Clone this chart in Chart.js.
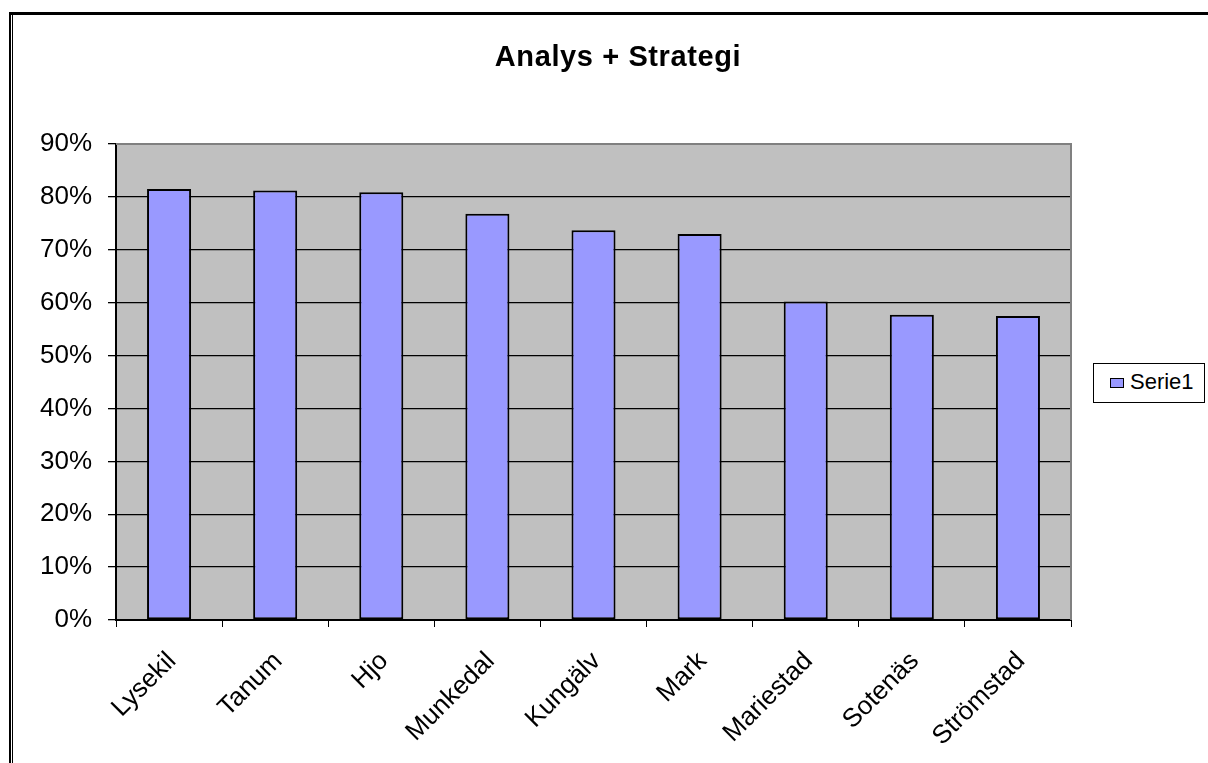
<!DOCTYPE html>
<html>
<head>
<meta charset="utf-8">
<script src="https://cdn.jsdelivr.net/npm/chart.js@4/dist/chart.umd.min.js"></script>
<style>
  html, body { margin: 0; padding: 0; background: #fff; }
  #wrap { position: relative; width: 1208px; height: 763px; overflow: hidden; }
  #c { position: absolute; left: 0; top: 0; }
  #title { position: absolute; left: 418px; top: 42px; width: 400px; text-align: center;
    font: bold 29px "Liberation Sans", Arial, sans-serif; line-height: 29px; letter-spacing: 0.6px; color: #000; }
  #legend { position: absolute; left: 1093px; top: 363px; width: 112px; height: 40px; box-sizing: border-box;
    border: 1px solid #000; background: #fff; }
  #legend .sw { position: absolute; left: 16px; top: 14px; width: 14px; height: 10px; box-sizing: border-box;
    border: 1px solid #000; background: #9999FF; }
  #legend .tx { position: absolute; left: 36px; top: 7px; font: 22px "Liberation Sans", Arial, sans-serif;
    line-height: 22px; color: #000; white-space: nowrap; }
</style>
</head>
<body>
<div id="wrap">
  <canvas id="c" width="1208" height="763"></canvas>
  <div id="title">Analys + Strategi</div>
  <div id="legend"><div class="sw"></div><div class="tx" id="legendText"></div></div>
</div>
<script>
const categories = ["Lysekil", "Tanum", "Hjo", "Munkedal", "Kungälv", "Mark", "Mariestad", "Sotenäs", "Strömstad"];
const seriesName = "Serie1";
const serie1 = [81.5, 81.2, 80.9, 76.8, 73.7, 73.0, 60.2, 57.7, 57.5];
const yTicks = [0, 10, 20, 30, 40, 50, 60, 70, 80, 90];

document.getElementById('legendText').textContent = seriesName;

const FONT = '"Liberation Sans", Arial, sans-serif';

const plotBg = {
  id: 'plotBg',
  beforeDraw(chart) {
    const { ctx, chartArea: a } = chart;
    ctx.save();
    ctx.fillStyle = '#C0C0C0';
    ctx.fillRect(a.left, a.top, a.right - a.left, a.bottom - a.top);
    ctx.restore();
  },
  beforeDatasetsDraw(chart) {
    const { ctx, chartArea: a } = chart;
    ctx.save();
    ctx.strokeStyle = '#808080';
    ctx.lineWidth = 2;
    ctx.beginPath();
    ctx.moveTo(a.left, a.top);
    ctx.lineTo(a.right, a.top);
    ctx.lineTo(a.right, a.bottom);
    ctx.stroke();
    ctx.restore();
  },
  afterDraw(chart) {
    const { ctx } = chart;
    ctx.save();
    ctx.fillStyle = '#000';
    ctx.fillRect(9, 12, 1208 - 9, 3);   // top frame
    ctx.fillRect(9, 12, 2, 763 - 12);   // left frame thick
    ctx.fillRect(12, 15, 1, 763 - 15);  // left frame thin
    ctx.restore();
  }
};

new Chart(document.getElementById('c'), {
  type: 'bar',
  data: {
    labels: categories,
    datasets: [{
      label: seriesName,
      data: serie1,
      backgroundColor: '#9999FF',
      borderColor: '#000000',
      borderWidth: 2,
      borderSkipped: false,
      barPercentage: 0.415,
      categoryPercentage: 1.0
    }]
  },
  options: {
    responsive: false,
    animation: false,
    devicePixelRatio: 1,
    layout: { padding: { top: 144, right: 137, left: 0, bottom: 0 } },
    plugins: {
      legend: { display: false },
      title: { display: false },
      tooltip: { enabled: false }
    },
    scales: {
      x: {
        grid: { offset: true, drawOnChartArea: false, drawTicks: true, tickLength: 7, color: '#000', lineWidth: 1 },
        border: { color: '#000', width: 2 },
        ticks: {
          font: { family: FONT, size: 26 }, color: '#000',
          maxRotation: 45, minRotation: 45, autoSkip: false,
          padding: 19, labelOffset: 3
        },
        afterFit(s) { s.height = 143; }
      },
      y: {
        min: 0, max: 90,
        afterBuildTicks(s) { s.ticks = yTicks.map(v => ({ value: v })); },
        ticks: {
          callback: v => v + '%',
          font: { family: FONT, size: 26 }, color: '#000', padding: 16
        },
        grid: {
          color: c => (c.tick && c.tick.value === 90) ? 'rgba(0,0,0,0)' : '#000',
          tickColor: '#000', tickLength: 8, lineWidth: 1.3
        },
        border: { color: '#000', width: 2 },
        afterFit(s) { s.width = 116; }
      }
    }
  },
  plugins: [plotBg]
});
</script>
</body>
</html>
